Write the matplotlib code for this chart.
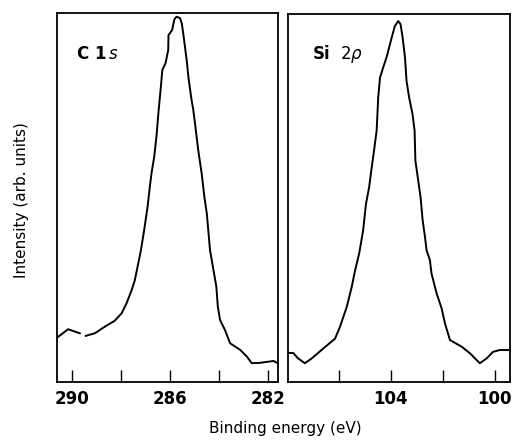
import numpy as np
import matplotlib.pyplot as plt

# C 1s spectrum (binding energy in eV, intensity in arb. units); nan = gap in trace
c1s_energy = [290.58, 290.15, 289.67, np.nan, 289.43, 289.06, 288.65, 288.25, 287.97,
              287.77, 287.56, 287.43, 287.32, 287.18, 287.05, 286.91, 286.82, 286.75,
              286.64, 286.55, 286.46, 286.37, 286.31, 286.18, 286.07, 286.06, 285.91,
              285.82, 285.73, 285.59, 285.52, 285.46, 285.39, 285.32, 285.25, 285.14,
              285.05, 284.98, 284.85, 284.71, 284.60, 284.50, 284.44, 284.37, 284.23,
              284.11, 284.05, 283.96, 283.76, 283.55, 283.14, 282.87, 282.67, 282.33,
              281.78, 281.62]
c1s_intensity = [0.121, 0.143, 0.132, np.nan, 0.125, 0.132, 0.150, 0.166, 0.186,
                 0.213, 0.249, 0.276, 0.312, 0.358, 0.412, 0.475, 0.529, 0.566,
                 0.611, 0.665, 0.737, 0.800, 0.846, 0.864, 0.900, 0.940, 0.954,
                 0.983, 0.990, 0.986, 0.972, 0.945, 0.909, 0.873, 0.827, 0.773,
                 0.737, 0.701, 0.629, 0.566, 0.502, 0.457, 0.412, 0.358, 0.304,
                 0.258, 0.204, 0.168, 0.141, 0.105, 0.087, 0.069, 0.051, 0.052,
                 0.057, 0.051]

# Si 2p spectrum
si2p_energy = [107.97, 107.76, 107.57, 107.31, 107.05, 106.67, 106.15, 105.96, 105.70,
               105.51, 105.39, 105.22, 105.07, 104.96, 104.84, 104.74, 104.65, 104.55,
               104.49, 104.42, 104.32, 104.17, 103.97, 103.85, 103.72, 103.63, 103.55,
               103.46, 103.40, 103.30, 103.17, 103.09, 103.06, 102.95, 102.86, 102.78,
               102.69, 102.63, 102.50, 102.44, 102.24, 102.05, 101.92, 101.73, 101.28,
               100.96, 100.58, 100.32, 100.07, 99.81, 99.49]
si2p_intensity = [0.079, 0.079, 0.064, 0.051, 0.064, 0.087, 0.118, 0.150, 0.204,
                  0.258, 0.300, 0.350, 0.412, 0.484, 0.529, 0.583, 0.629, 0.683,
                  0.773, 0.827, 0.850, 0.882, 0.936, 0.967, 0.981, 0.972, 0.936,
                  0.882, 0.818, 0.773, 0.728, 0.683, 0.602, 0.547, 0.502, 0.439,
                  0.394, 0.358, 0.331, 0.295, 0.240, 0.200, 0.159, 0.114, 0.096,
                  0.078, 0.051, 0.064, 0.082, 0.087, 0.087]

c1s_major = [290, 286, 282]
c1s_minor = [288, 284]
si2p_major = [104, 100]
si2p_minor = [106, 102]

fig = plt.figure(figsize=(5.19, 4.46), dpi=100)
ax1 = fig.add_axes([57 / 519, 1 - 382 / 446, 221 / 519, 369 / 446])
ax2 = fig.add_axes([288 / 519, 1 - 382 / 446, 222 / 519, 368 / 446])

ax1.plot(c1s_energy, c1s_intensity, color='black', lw=1.4)
ax2.plot(si2p_energy, si2p_intensity, color='black', lw=1.4)

ax1.set_xlim(290.6, 281.6)
ax2.set_xlim(107.96, 99.42)

for ax, major, minor in [(ax1, c1s_major, c1s_minor), (ax2, si2p_major, si2p_minor)]:
    ax.set_ylim(0, 1)
    ax.set_yticks([])
    ax.set_xticks(major)
    ax.set_xticks(minor, minor=True)
    ax.tick_params(axis='x', which='both', direction='in', length=9, width=1.0,
                   top=False)
    ax.tick_params(axis='x', which='major', pad=6)
    for lab in ax.get_xticklabels():
        lab.set_fontsize(12)
        lab.set_fontweight('bold')
    for sp in ax.spines.values():
        sp.set_linewidth(1.3)

ax1.text(0.09, 0.89, r'C 1', transform=ax1.transAxes, fontsize=12,
         fontweight='bold', va='center')
ax1.text(0.235, 0.89, 's', transform=ax1.transAxes, fontsize=12,
         style='italic', va='center')
ax2.text(0.11, 0.89, 'Si', transform=ax2.transAxes, fontsize=12,
         fontweight='bold', va='center')
ax2.text(0.235, 0.89, r'2$\rho$', transform=ax2.transAxes, fontsize=12,
         va='center')

fig.text(22 / 519, 1 - 200 / 446, 'Intensity (arb. units)', rotation=90,
         ha='center', va='center', fontsize=11)
fig.text(285 / 519, 1 - 428 / 446, 'Binding energy (eV)', ha='center',
         va='center', fontsize=11)

plt.savefig('out.png', dpi=100)
